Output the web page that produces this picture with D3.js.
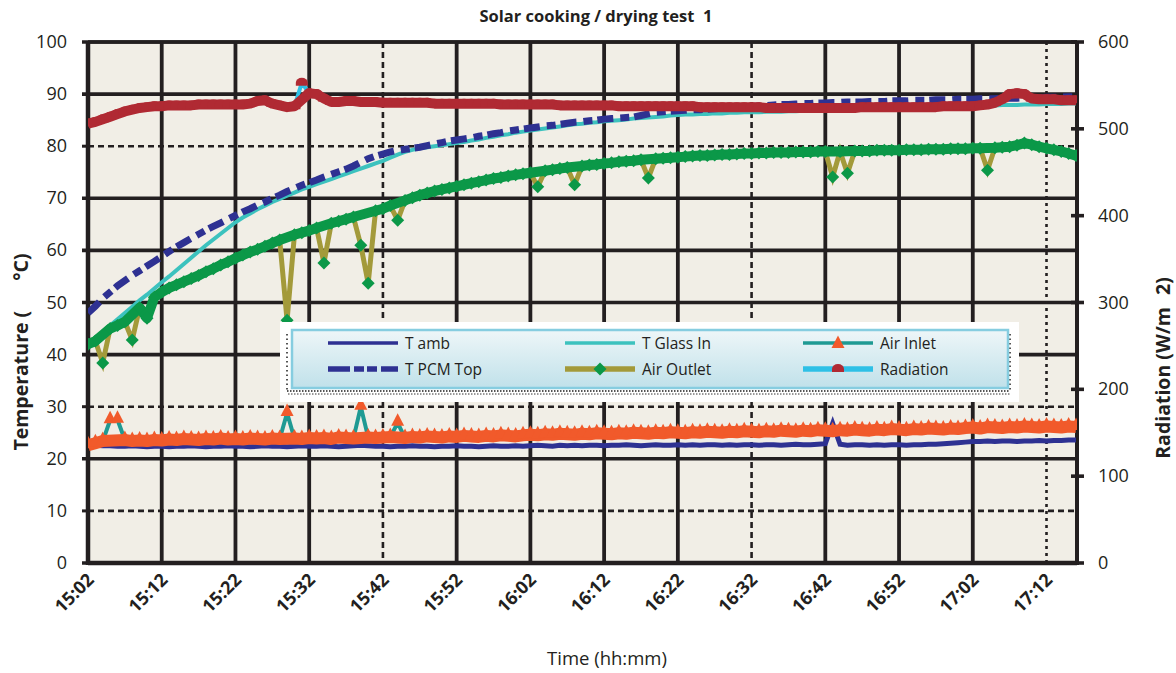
<!DOCTYPE html>
<html><head><meta charset="utf-8">
<script src="https://cdn.jsdelivr.net/npm/d3@7"></script>
<style>
body{margin:0;background:#fff;}
text{font-family:"Open Sans","Noto Sans",sans-serif;fill:#231F20;}
</style>
</head><body>
<svg id="chart" width="1176" height="673"></svg>
<script>
// ---------------- DATA ----------------
const sampleTimes = [
"15:02","15:03","15:04","15:05","15:06","15:07","15:08","15:09","15:10","15:11",
"15:12","15:13","15:14","15:15","15:16","15:17","15:18","15:19","15:20","15:21",
"15:22","15:23","15:24","15:25","15:26","15:27","15:28","15:29","15:30","15:31",
"15:32","15:33","15:34","15:35","15:36","15:37","15:38","15:39","15:40","15:41",
"15:42","15:43","15:44","15:45","15:46","15:47","15:48","15:49","15:50","15:51",
"15:52","15:53","15:54","15:55","15:56","15:57","15:58","15:59","16:00","16:01",
"16:02","16:03","16:04","16:05","16:06","16:07","16:08","16:09","16:10","16:11",
"16:12","16:13","16:14","16:15","16:16","16:17","16:18","16:19","16:20","16:21",
"16:22","16:23","16:24","16:25","16:26","16:27","16:28","16:29","16:30","16:31",
"16:32","16:33","16:34","16:35","16:36","16:37","16:38","16:39","16:40","16:41",
"16:42","16:43","16:44","16:45","16:46","16:47","16:48","16:49","16:50","16:51",
"16:52","16:53","16:54","16:55","16:56","16:57","16:58","16:59","17:00","17:01",
"17:02","17:03","17:04","17:05","17:06","17:07","17:08","17:09","17:10","17:11",
"17:12","17:13","17:14","17:15","17:16"];

const tAmb = [
22.9,22.6,22.5,22.5,22.4,22.4,22.5,22.4,22.3,22.4,
22.4,22.3,22.4,22.4,22.5,22.4,22.3,22.4,22.4,22.5,
22.4,22.4,22.3,22.4,22.5,22.4,22.4,22.3,22.4,22.5,
22.4,22.4,22.5,22.4,22.3,22.4,22.5,22.6,22.5,22.4,
22.4,22.3,22.4,22.4,22.5,22.4,22.4,22.3,22.4,22.4,
22.5,22.4,22.4,22.3,22.4,22.5,22.4,22.4,22.5,22.4,
22.5,22.6,22.5,22.4,22.6,22.5,22.6,22.5,22.6,22.6,
22.5,22.6,22.6,22.7,22.6,22.5,22.6,22.7,22.6,22.6,
22.7,22.6,22.7,22.6,22.7,22.7,22.6,22.7,22.6,22.7,
22.7,22.6,22.7,22.7,22.6,22.7,22.8,22.7,22.7,22.8,
22.9,26.8,22.8,22.6,22.7,22.7,22.6,22.7,22.6,22.7,
22.7,22.6,22.7,22.7,22.8,22.8,22.9,23.0,23.1,23.2,
23.3,23.3,23.4,23.3,23.4,23.4,23.3,23.4,23.4,23.5,
23.4,23.5,23.5,23.6,23.6];

const tPcmTop = [
48.0,49.3,50.8,52.0,53.2,54.2,55.2,56.1,57.0,57.9,
58.8,59.8,60.7,61.5,62.3,63.1,63.9,64.6,65.3,66.0,
66.7,67.4,68.0,68.7,69.3,70.0,70.6,71.3,71.9,72.5,
73.0,73.5,74.1,74.6,75.1,75.6,76.2,76.9,77.6,78.1,
78.5,78.9,79.2,79.4,79.6,79.8,80.1,80.4,80.7,81.0,
81.2,81.4,81.6,81.9,82.1,82.4,82.6,82.9,83.1,83.3,
83.5,83.7,83.9,84.0,84.2,84.4,84.6,84.7,84.9,85.0,
85.2,85.3,85.4,85.5,85.6,85.9,86.2,86.5,86.6,86.7,
86.8,86.9,87.0,87.0,87.1,87.2,87.3,87.3,87.4,87.5,
87.6,87.7,87.8,87.9,88.0,88.0,88.1,88.2,88.2,88.3,
88.3,88.4,88.4,88.5,88.5,88.5,88.6,88.6,88.6,88.7,
88.7,88.7,88.8,88.8,88.8,88.9,88.9,88.9,89.0,89.0,
89.0,89.1,89.1,89.1,89.2,89.2,89.2,89.3,89.3,89.3,
89.4,89.4,89.4,89.5,89.5];

const tGlassIn = [
42.0,43.2,44.4,45.6,46.8,48.0,49.2,50.4,51.5,52.7,
53.9,55.0,56.2,57.4,58.6,59.8,61.0,62.1,63.2,64.3,
65.4,66.3,67.1,67.9,68.6,69.3,69.9,70.5,71.1,71.7,
72.2,72.7,73.2,73.7,74.2,74.7,75.2,75.7,76.2,76.7,
77.2,77.8,78.4,78.9,79.3,79.6,79.8,80.0,80.2,80.4,
80.6,80.8,81.1,81.3,81.6,81.8,82.1,82.3,82.6,82.8,
83.0,83.2,83.4,83.6,83.8,84.0,84.2,84.3,84.5,84.6,
84.8,84.9,85.0,85.1,85.3,85.4,85.5,85.6,85.7,85.9,
86.0,86.1,86.1,86.2,86.2,86.3,86.3,86.4,86.4,86.5,
86.5,86.5,86.6,86.6,86.6,86.7,86.7,86.8,86.8,86.9,
86.9,86.9,87.0,87.0,87.1,87.1,87.2,87.2,87.2,87.3,
87.3,87.3,87.4,87.4,87.5,87.5,87.5,87.6,87.6,87.7,
87.7,87.7,87.8,87.8,87.9,87.9,87.9,88.0,88.0,88.0,
88.1,88.1,88.1,88.2,88.2];

const airOutlet = [
42.0,42.6,38.4,45.0,45.6,46.3,42.8,49.0,47.0,51.0,
52.0,52.8,53.4,54.0,54.6,55.2,55.9,56.5,57.2,57.8,
58.5,59.1,59.7,60.2,60.8,61.4,62.0,46.6,63.0,63.4,
63.8,64.3,57.6,65.2,65.6,66.0,66.4,61.0,53.7,67.6,
68.0,68.6,65.8,69.6,70.1,70.6,71.0,71.4,71.7,72.0,
72.3,72.6,72.9,73.2,73.5,73.8,74.0,74.3,74.5,74.7,
74.9,72.2,75.3,75.5,75.7,75.9,72.6,76.2,76.4,76.5,
76.7,76.8,77.0,77.1,77.2,77.4,73.9,77.6,77.7,77.8,
77.9,78.0,78.1,78.2,78.2,78.3,78.4,78.4,78.5,78.6,
78.6,78.7,78.7,78.8,78.8,78.8,78.9,78.9,78.9,79.0,
79.0,74.1,79.0,74.8,79.1,79.1,79.1,79.2,79.2,79.2,
79.2,79.3,79.3,79.3,79.4,79.4,79.4,79.5,79.5,79.5,
79.6,79.6,75.4,79.7,79.8,79.9,80.2,80.6,80.3,79.9,
79.6,79.3,79.0,78.6,78.2];

const airInlet = [
22.6,23.0,23.4,27.4,27.5,23.6,23.4,23.5,23.4,23.6,
23.5,23.7,23.6,23.8,23.7,23.6,23.8,23.7,23.9,23.7,
23.8,23.7,23.9,23.8,23.7,23.9,23.8,28.8,23.9,23.8,
24.0,23.9,24.0,23.8,24.1,24.0,23.9,30.0,24.1,24.0,
24.1,24.2,26.9,24.0,24.2,24.1,24.3,24.2,24.1,24.3,
24.2,24.4,24.3,24.2,24.4,24.3,24.5,24.4,24.3,24.5,
24.6,24.5,24.7,24.6,24.8,24.7,24.6,24.8,24.7,24.9,
24.8,24.7,24.9,24.8,25.0,24.9,24.8,25.0,24.9,25.1,
25.0,24.9,25.1,25.0,25.2,25.1,25.0,25.2,25.1,25.3,
25.2,25.1,25.3,25.2,25.4,25.3,25.2,25.4,25.3,25.5,
25.4,25.3,25.5,25.4,25.6,25.5,25.4,25.6,25.5,25.7,
25.6,25.5,25.7,25.6,25.8,25.7,25.6,25.8,25.7,25.9,
26.0,25.8,26.1,26.0,25.9,26.1,26.0,26.2,26.1,26.0,
26.2,26.1,26.0,26.2,26.1];

const radiation = [
506,508,511,514,517,520,522,524,525,526,
526,527,527,527,527,528,528,528,528,528,
528,528,529,532,533,529,527,525,526,553,
541,540,535,531,531,532,532,531,531,531,
530,530,530,530,530,530,530,529,529,529,
529,529,529,529,529,529,528,528,528,528,
528,528,528,528,527,527,527,527,527,527,
527,527,526,526,526,526,526,526,526,526,
526,526,526,525,525,525,525,525,525,525,
525,525,524,524,524,524,524,524,524,524,
524,524,524,524,524,525,525,525,525,525,
525,525,525,525,525,525,526,526,526,526,
526,527,528,530,534,540,541,540,535,534,
534,534,533,533,533];

const xTickLabels = ["15:02","15:12","15:22","15:32","15:42","15:52","16:02","16:12","16:22","16:32","16:42","16:52","17:02","17:12"];
const dashedXTicks = ["15:42","16:32"];
const dottedXTicks = ["17:12"];
const yLeftTicks = [0,10,20,30,40,50,60,70,80,90,100];
const dashedYTicks = [10,30,80];
const yRightTicks = [0,100,200,300,400,500,600];

// ---------------- CHART ----------------
const svg = d3.select("#chart");
const parse = d3.timeParse("%H:%M");
const L = 88, R = 1077, T = 42, B = 563;

const x = d3.scaleTime().domain([parse("15:02"), parse("17:16")]).range([L, 1076]);
const yL = d3.scaleLinear().domain([0,100]).range([B,T]);
const yR = d3.scaleLinear().domain([0,600]).range([B,T]);

const dark = "#231F20";
const C = {
  navy:"#2E3192", glass:"#3CC2BE", olive:"#A39A3A", green:"#0B9848",
  inletLine:"#1F9A93", orange:"#F15A2B", radLine:"#2EC0E6", red:"#B02A33"
};

svg.append("rect").attr("x",L).attr("y",T).attr("width",R-L).attr("height",B-T).attr("fill","#F1EEE6");

yLeftTicks.forEach(v=>{
  const dashed = dashedYTicks.includes(v);
  svg.append("line").attr("x1", dashed? L : 82).attr("x2",R).attr("y1",yL(v)).attr("y2",yL(v))
    .attr("stroke",dark).attr("stroke-width", dashed?2.6:3.6)
    .attr("stroke-dasharray", dashed? "6,4": null);
  if(dashed) svg.append("line").attr("x1",82).attr("x2",L).attr("y1",yL(v)).attr("y2",yL(v)).attr("stroke",dark).attr("stroke-width",3);
});
xTickLabels.forEach(s=>{
  const xv = x(parse(s));
  const dashed = dashedXTicks.includes(s), dotted = dottedXTicks.includes(s);
  svg.append("line").attr("x1",xv).attr("x2",xv).attr("y1",T).attr("y2",B)
    .attr("stroke",dark).attr("stroke-width",(dashed||dotted)?2.6:3.8)
    .attr("stroke-dasharray", dashed? "6,4" : dotted ? "3,4" : null);
});
svg.append("line").attr("x1",L).attr("x2",L).attr("y1",T-1).attr("y2",B+2).attr("stroke",dark).attr("stroke-width",4.5);
svg.append("line").attr("x1",R).attr("x2",R).attr("y1",T-1).attr("y2",B+2).attr("stroke",dark).attr("stroke-width",4);
svg.append("line").attr("x1",L).attr("x2",R).attr("y1",B).attr("y2",B).attr("stroke",dark).attr("stroke-width",4.5);
svg.append("line").attr("x1",L).attr("x2",R).attr("y1",T).attr("y2",T).attr("stroke",dark).attr("stroke-width",3.6);

yRightTicks.forEach(v=>{
  svg.append("line").attr("x1",R-6).attr("x2",R+7).attr("y1",yR(v)).attr("y2",yR(v)).attr("stroke",dark).attr("stroke-width",3.6);
});

svg.append("g").selectAll("text").data(yLeftTicks).join("text")
  .attr("x",67).attr("y",d=>yL(d)+6).attr("text-anchor","end").attr("font-size",18).text(d=>d);
svg.append("g").selectAll("text").data(yRightTicks).join("text")
  .attr("x",1098).attr("y",d=>yR(d)+6).attr("text-anchor","start").attr("font-size",18).text(d=>d);
svg.append("g").selectAll("text").data(xTickLabels).join("text")
  .attr("transform",d=>`translate(${x(parse(d))+7},581) rotate(-45)`)
  .attr("text-anchor","end").attr("font-size",18).attr("font-weight","bold").text(d=>d);

svg.append("text").attr("x",596).attr("y",22).attr("text-anchor","middle").attr("font-size",16.5).attr("font-weight","bold")
  .text("Solar cooking / drying test  1").style("white-space","pre");
svg.append("text").attr("x",607).attr("y",665).attr("text-anchor","middle").attr("font-size",18.5).text("Time (hh:mm)");
const lt = svg.append("text").attr("transform","translate(28,352) rotate(-90)").attr("text-anchor","middle")
  .attr("font-size",19.5).attr("font-weight","bold");
lt.append("tspan").text("Temperature (");
lt.append("tspan").attr("dx",30).text("°C)");
const rt = svg.append("text").attr("transform","translate(1170,368) rotate(-90)").attr("text-anchor","middle")
  .attr("font-size",19.5).attr("font-weight","bold");
rt.append("tspan").text("Radiation (W/m");
rt.append("tspan").attr("dx",12).text("2");
rt.append("tspan").text(")");

// ---------------- SERIES ----------------
svg.append("clipPath").attr("id","plotclip").append("rect").attr("x",L).attr("y",T-8).attr("width",R-L).attr("height",B-T+8);
const g = svg.append("g").attr("clip-path","url(#plotclip)");

const times = sampleTimes.map(parse);
const mk = arr => arr.map((v,i)=>({t:times[i], v, i}));
function isOutlier(arr,i,thr){
  const w = arr.slice(Math.max(0,i-2), i+3).slice().sort((a,b)=>a-b);
  return Math.abs(arr[i]-w[Math.floor(w.length/2)]) > thr;
}
const lineL = d3.line().x(d=>x(d.t)).y(d=>yL(d.v));
const lineR = d3.line().x(d=>x(d.t)).y(d=>yR(d.v));

const diamond = "M0,-6.5L6.5,0L0,6.5L-6.5,0Z";
const triangle = "M0,-7.5L6.5,5L-6.5,5Z";
const dome = "M-6,3L-6,0A6,5 0 0 1 6,0L6,3Z";

g.append("path").datum(mk(tAmb)).attr("d",lineL).attr("fill","none").attr("stroke",C.navy).attr("stroke-width",5);
g.append("path").datum(mk(tGlassIn)).attr("d",lineL).attr("fill","none").attr("stroke",C.glass).attr("stroke-width",4);
g.append("path").datum(mk(tPcmTop)).attr("d",lineL).attr("fill","none").attr("stroke",C.navy).attr("stroke-width",7)
  .attr("stroke-dasharray","16,7,9,5");

const ao = mk(airOutlet);
g.append("path").datum(ao).attr("d",lineL).attr("fill","none").attr("stroke",C.olive).attr("stroke-width",5);
g.append("path").datum(ao.filter(d=>!isOutlier(airOutlet,d.i,2.5))).attr("d",lineL).attr("fill","none")
  .attr("stroke",C.green).attr("stroke-width",10).attr("stroke-linejoin","round");
g.append("g").selectAll("path").data(ao).join("path").attr("d",diamond)
  .attr("transform",d=>`translate(${x(d.t)},${yL(d.v)})`).attr("fill",C.green);

const ai = mk(airInlet);
g.append("path").datum(ai).attr("d",lineL).attr("fill","none").attr("stroke",C.inletLine).attr("stroke-width",4);
g.append("path").datum(ai.filter(d=>!isOutlier(airInlet,d.i,2))).attr("d",lineL).attr("fill","none")
  .attr("stroke",C.orange).attr("stroke-width",12).attr("stroke-linejoin","round");
g.append("g").selectAll("path").data(ai).join("path").attr("d",triangle)
  .attr("transform",d=>`translate(${x(d.t)},${yL(d.v)-2})`).attr("fill",C.orange);

const ra = mk(radiation);
g.append("path").datum(ra).attr("d",lineR).attr("fill","none").attr("stroke",C.radLine).attr("stroke-width",4);
g.append("path").datum(ra.filter(d=>!isOutlier(radiation,d.i,10))).attr("d",lineR).attr("fill","none")
  .attr("stroke",C.red).attr("stroke-width",10).attr("stroke-linejoin","round");
g.append("g").selectAll("path").data(ra).join("path").attr("d",dome)
  .attr("transform",d=>`translate(${x(d.t)},${yR(d.v)})`).attr("fill",C.red);

// ---------------- LEGEND ----------------
const defs = svg.append("defs");
const grad = defs.append("linearGradient").attr("id","lg").attr("x1",0).attr("y1",0).attr("x2",0).attr("y2",1);
grad.append("stop").attr("offset","0%").attr("stop-color","#EEF6F8");
grad.append("stop").attr("offset","100%").attr("stop-color","#C0E1EA");

const lg = svg.append("g");
lg.append("rect").attr("x",280).attr("y",322).attr("width",739).attr("height",80).attr("fill","#fff");
lg.append("line").attr("x1",287).attr("x2",287).attr("y1",334).attr("y2",392).attr("stroke","#555").attr("stroke-width",2).attr("stroke-dasharray","1.5,3");
lg.append("line").attr("x1",1010).attr("x2",1010).attr("y1",334).attr("y2",392).attr("stroke","#555").attr("stroke-width",2).attr("stroke-dasharray","1.5,3");
lg.append("line").attr("x1",287).attr("x2",1010).attr("y1",391).attr("y2",391).attr("stroke","#555").attr("stroke-width",2).attr("stroke-dasharray","1.5,1.5");
lg.append("line").attr("x1",288).attr("x2",1010).attr("y1",394).attr("y2",394).attr("stroke","#777").attr("stroke-width",1.5).attr("stroke-dasharray","1.5,1.5");
lg.append("rect").attr("x",292).attr("y",330).attr("width",716).attr("height",58).attr("fill","url(#lg)")
  .attr("stroke","#86CDE0").attr("stroke-width",2.5);

const legendItems = [
  {name:"T amb", col:0,row:0},
  {name:"T Glass In", col:1,row:0},
  {name:"Air Inlet", col:2,row:0},
  {name:"T PCM Top", col:0,row:1},
  {name:"Air Outlet", col:1,row:1},
  {name:"Radiation", col:2,row:1}
];
const colX = [328,565,803], rowY = [343,369];
legendItems.forEach(it=>{
  const x0 = colX[it.col], y0 = rowY[it.row], xm = x0+35;
  const ln = lg.append("line").attr("x1",x0).attr("x2",x0+70).attr("y1",y0).attr("y2",y0);
  if(it.name==="T amb") ln.attr("stroke",C.navy).attr("stroke-width",3.5);
  if(it.name==="T Glass In") ln.attr("stroke",C.glass).attr("stroke-width",3.5);
  if(it.name==="T PCM Top") ln.attr("stroke",C.navy).attr("stroke-width",5.5).attr("stroke-dasharray","22,4,10,3,10,4");
  if(it.name==="Air Outlet"){ ln.attr("stroke",C.olive).attr("stroke-width",5.5);
    lg.append("path").attr("d",diamond).attr("transform",`translate(${xm},${y0})`).attr("fill",C.green); }
  if(it.name==="Air Inlet"){ ln.attr("stroke",C.inletLine).attr("stroke-width",3.5);
    lg.append("path").attr("d",triangle).attr("transform",`translate(${xm},${y0})`).attr("fill",C.orange); }
  if(it.name==="Radiation"){ ln.attr("stroke",C.radLine).attr("stroke-width",5.5);
    lg.append("path").attr("d",dome).attr("transform",`translate(${xm},${y0})`).attr("fill",C.red); }
  lg.append("text").attr("x",x0+77).attr("y",y0+6).attr("font-size",15.5).text(it.name);
});
</script>
</body></html>
